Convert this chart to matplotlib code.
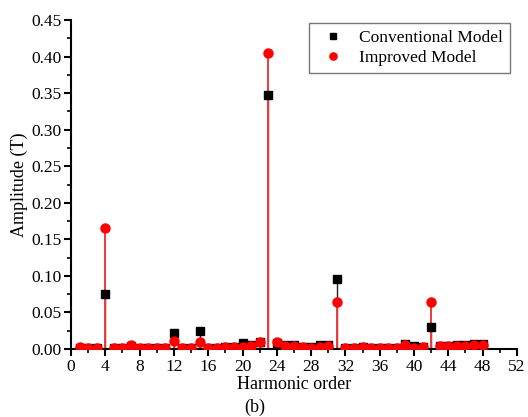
import matplotlib
matplotlib.use("Agg")
import matplotlib.pyplot as plt
from matplotlib.ticker import MultipleLocator, FormatStrFormatter

plt.rcParams['font.family'] = ['Liberation Serif', 'DejaVu Serif']

harmonics = list(range(1, 49))
conventional = [0.002, 0.002, 0.002, 0.075, 0.002, 0.002, 0.004, 0.002, 0.002, 0.002,
                0.002, 0.022, 0.002, 0.002, 0.025, 0.002, 0.002, 0.003, 0.003, 0.008,
                0.005, 0.009, 0.348, 0.008, 0.005, 0.005, 0.003, 0.003, 0.005, 0.006,
                0.096, 0.002, 0.002, 0.003, 0.002, 0.002, 0.002, 0.002, 0.007, 0.004,
                0.003, 0.030, 0.004, 0.004, 0.006, 0.005, 0.007, 0.007]
improved = [0.003, 0.002, 0.002, 0.165, 0.0015, 0.002, 0.005, 0.002, 0.002, 0.002,
            0.002, 0.0105, 0.002, 0.002, 0.010, 0.002, 0.002, 0.003, 0.003, 0.003,
            0.0045, 0.009, 0.405, 0.010, 0.004, 0.004, 0.003, 0.002, 0.003, 0.004,
            0.064, 0.002, 0.0015, 0.003, 0.002, 0.002, 0.002, 0.002, 0.0055, 0.002,
            0.003, 0.065, 0.004, 0.004, 0.0045, 0.004, 0.005, 0.005]

fig = plt.figure(figsize=(5.28, 4.17), dpi=100)
ax = fig.add_axes([0.1345, 0.163, 0.8445, 0.789])

ax.vlines(harmonics, 0, conventional, colors='#222222', linewidth=1.0, zorder=1)
ax.vlines(harmonics, 0, improved, colors='#f03838', linewidth=1.4, zorder=2)
ax.plot(harmonics, conventional, linestyle='none', marker='s', markersize=6,
        color='black', label='Conventional Model', zorder=3)
ax.plot(harmonics, improved, linestyle='none', marker='o', markersize=6.5,
        color='red', markeredgecolor='red', label='Improved Model', zorder=4)

ax.set_xlim(0, 52)
ax.set_ylim(0, 0.45)
ax.xaxis.set_major_locator(MultipleLocator(4))
ax.xaxis.set_minor_locator(MultipleLocator(2))
ax.yaxis.set_major_locator(MultipleLocator(0.05))
ax.yaxis.set_minor_locator(MultipleLocator(0.025))
ax.yaxis.set_major_formatter(FormatStrFormatter('%.2f'))

for s in ['top', 'right']:
    ax.spines[s].set_visible(False)
for s in ['left', 'bottom']:
    ax.spines[s].set_linewidth(1.5)

ax.tick_params(which='major', direction='out', length=5, width=1.5, labelsize=12.5, pad=2)
ax.tick_params(which='minor', direction='out', length=3, width=1.2)

ax.set_xlabel('Harmonic order', fontsize=13, labelpad=1)
ax.set_ylabel('Amplitude (T)', fontsize=13, labelpad=2)

leg = ax.legend(loc='upper right', bbox_to_anchor=(0.984, 0.991), borderaxespad=0,
                fontsize=12.5, frameon=True, fancybox=False, edgecolor='#555555',
                handletextpad=0.5, borderpad=0.4, labelspacing=0.2,
                handlelength=2.0, markerscale=0.8)
leg.get_frame().set_linewidth(1.0)

fig.text(0.483, 0.022, '(b)', fontsize=13, ha='center', va='center')

fig.savefig('out.png', dpi=100)
